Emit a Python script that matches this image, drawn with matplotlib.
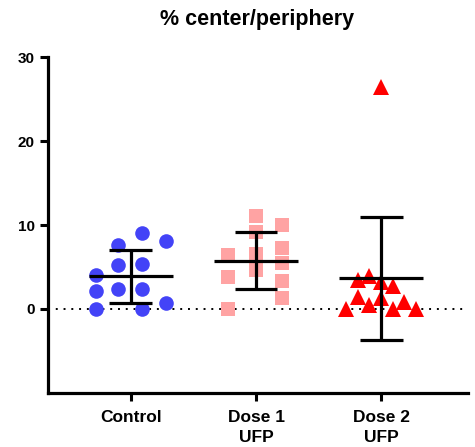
import matplotlib
matplotlib.use('Agg')
import matplotlib.pyplot as plt
import numpy as np

plt.rcParams['font.family'] = ['Liberation Sans', 'DejaVu Sans']
plt.rcParams['font.weight'] = 'bold'

# ===== Data =====
groups = ['Control', 'Dose 1\nUFP', 'Dose 2\nUFP']

control = [9.05, 8.1, 7.6, 5.2, 5.4, 4.0, 2.1, 2.4, 2.4, 0.7, 0.0, 0.0]
control_dx = [0.09, 0.28, -0.10, -0.10, 0.09, -0.28, -0.28, -0.10, 0.09, 0.28, -0.28, 0.09]

dose1 = [11.1, 10.0, 9.2, 6.4, 6.5, 7.3, 5.5, 4.6, 3.8, 3.3, 1.3, 0.0]
dose1_dx = [0.0, 0.21, 0.0, -0.22, 0.0, 0.21, 0.21, 0.0, -0.22, 0.21, 0.21, -0.22]

dose2 = [26.4, 3.4, 3.9, 3.2, 2.7, 1.4, 1.3, 0.5, 0.8, 0.0, 0.0, 0.0]
dose2_dx = [0.0, -0.19, -0.10, 0.0, 0.09, -0.19, 0.0, -0.10, 0.18, -0.28, 0.09, 0.28]

series = [control, dose1, dose2]
offsets = [control_dx, dose1_dx, dose2_dx]
markers = ['o', 's', '^']
msizes = [10.5, 10.5, 12]
colors = ['#4343F7', '#FFA3A3', '#FF0000']

# ===== Plot =====
fig = plt.figure(figsize=(4.75, 4.47), dpi=100)
ax = fig.add_axes([0.101, 0.121, 0.884, 0.751])

ax.axhline(0, color='black', linestyle=(0, (1, 3)), linewidth=1.4, zorder=1)

for i, (vals, dx) in enumerate(zip(series, offsets)):
    xs = i + np.array(dx)
    ax.plot(xs, vals, linestyle='none', marker=markers[i], color=colors[i],
            markersize=msizes[i], markeredgewidth=0, zorder=2)
    m = np.mean(vals)
    sd = np.std(vals, ddof=1)
    ax.hlines(m, i - 0.335, i + 0.335, color='black', linewidth=2.3, zorder=3)
    ax.vlines(i, m - sd, m + sd, color='black', linewidth=2.3, zorder=3)
    ax.hlines([m - sd, m + sd], i - 0.17, i + 0.17, color='black', linewidth=2.3, zorder=3)

ax.set_xlim(-0.66, 2.69)
ax.set_ylim(-10, 30)
ax.set_yticks([0, 10, 20, 30])
ax.set_xticks(range(len(groups)))
ax.set_xticklabels(groups, fontsize=12.5, fontweight='bold', linespacing=1.45)
ax.tick_params(axis='y', labelsize=11, width=2.2, length=6)
ax.tick_params(axis='x', width=2.2, length=6, pad=6)
for lbl in ax.get_yticklabels():
    lbl.set_fontweight('bold')

for s in ['top', 'right']:
    ax.spines[s].set_visible(False)
for s in ['left', 'bottom']:
    ax.spines[s].set_linewidth(2.3)

fig.text(0.541, 0.957, '% center/periphery', ha='center', va='center',
         fontsize=15.5, fontweight='bold')

plt.savefig('out.png', dpi=100)
plt.close()
